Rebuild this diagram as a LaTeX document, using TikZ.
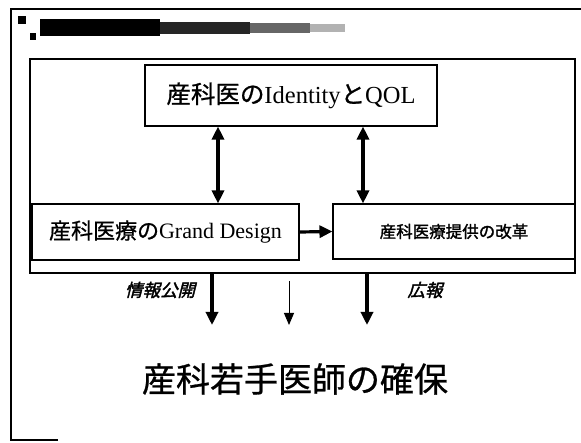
\documentclass[tikz,border=0pt]{standalone}
\usepackage{fontspec}
\setmainfont{Liberation Serif}
\newfontfamily\jp[FakeBold=0.8]{Noto Sans CJK JP}
\newfontfamily\jpb[FakeBold=1.5]{Noto Sans CJK JP}
\newfontfamily\jpbi[FakeSlant=0.25,FakeBold=2]{Noto Sans CJK JP}
\usetikzlibrary{arrows.meta}
\begin{document}
\begin{tikzpicture}[x=1pt,y=-1pt,
  box/.style={draw,line width=1.1pt,inner sep=0pt},
  framebox/.style={draw,line width=2.4pt,inner sep=0pt},
  bigarrow/.style={line width=3.2pt,-{Triangle[width=12pt,length=13pt]}},
  dblarrow/.style={line width=3.2pt,{Triangle[width=12pt,length=13pt]}-{Triangle[width=12pt,length=13pt]}},
  thinarrow/.style={line width=0.9pt,-{Triangle[width=10pt,length=12pt]}},
  lbl/.style={font=\jpbi\fontsize{17.5}{19}\selectfont,inner sep=0pt}]
\useasboundingbox (0,0) rectangle (581,443);
% page frame
\draw[line width=1.3pt] (58,440) -- (11,440) -- (11,9) -- (581,9);
% garbled title bar
\fill (18,16) rectangle (26,24);
\fill (30,33) rectangle (36,40);
\fill (40,19) rectangle (160,36);
\fill[black!85] (160,22) rectangle (250,34);
\fill[black!60] (250,23) rectangle (310,33);
\fill[black!30] (310,24) rectangle (345,32);
% inner frame
\node[framebox,minimum width=545pt,minimum height=214pt] (inner) at (302.5,166) {};
% boxes
\node[box,minimum width=292pt,minimum height=61pt] (top) at (291,95.5)
  {\fontsize{24.5}{28}\selectfont{\jp 産科医の}Identity{\jp と}QOL};
\node[box,minimum width=267pt,minimum height=56pt] (lb) at (165.5,232)
  {\fontsize{22}{26}\selectfont{\jp 産科医療の}Grand Design};
\node[box,minimum width=242pt,minimum height=55pt] (rb) at (454,231.5)
  {\jpb\fontsize{16.5}{20}\selectfont 産科医療提供の改革};
% vertical double arrows
\coordinate (xa) at (218,0);
\coordinate (xb) at (363,0);
\draw[dblarrow] (top.south -| xa) -- (lb.north -| xa);
\draw[dblarrow] (top.south -| xb) -- (rb.north -| xb);
% horizontal arrow
\draw[bigarrow] (lb.east) -- (rb.west);
% bottom arrows
\coordinate (e1) at (212,325);
\coordinate (s2) at (289,281);
\coordinate (e2) at (289,325);
\coordinate (e3) at (367,325);
\draw[bigarrow] (inner.south -| e1) -- (e1);
\draw[thinarrow] (s2) -- (e2);
\draw[bigarrow] (inner.south -| e3) -- (e3);
% labels
\node[lbl] (l1) at (160,290) {情報公開};
\node[lbl] (l2) at (425,290) {広報};
% goal
\node[font=\jp\fontsize{34}{38}\selectfont,inner sep=0pt] (goal) at (295,379) {産科若手医師の確保};
\end{tikzpicture}
\end{document}
